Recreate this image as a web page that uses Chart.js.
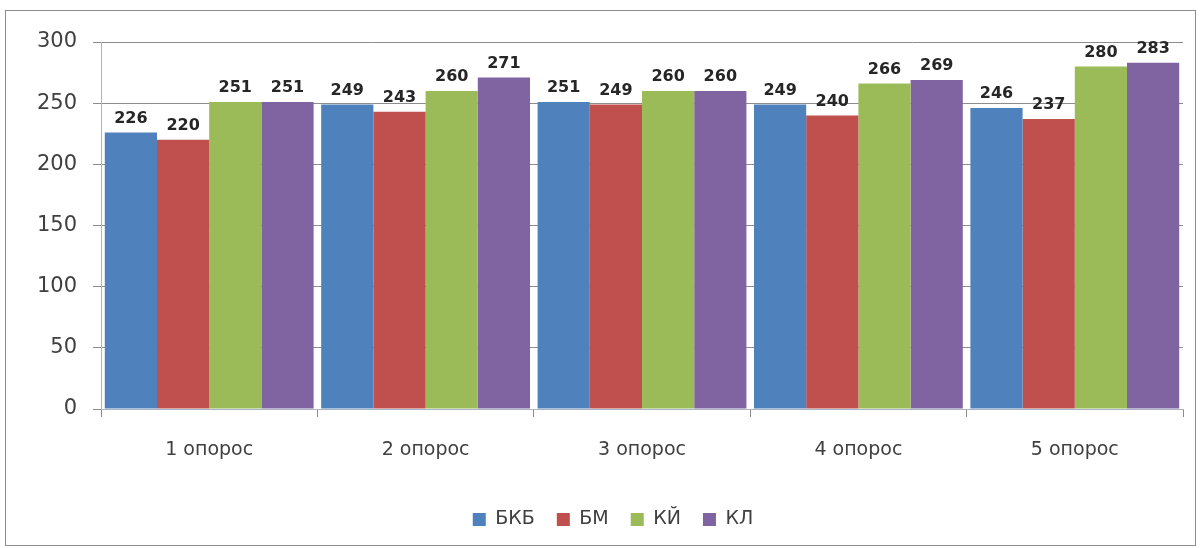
<!DOCTYPE html>
<html>
<head>
<meta charset="utf-8">
<script src="https://cdn.jsdelivr.net/npm/chart.js@4/dist/chart.umd.min.js"></script>
<style>
  body { margin: 0; background: #fff; }
  #frame {
    position: absolute; left: 5px; top: 10px;
    width: 1191px; height: 536px;
    box-sizing: border-box;
    border: 1px solid #8c8c8c;
  }
  #chart { display: block; position: absolute; left: 0; top: 0; }
</style>
</head>
<body>
<div id="frame"><canvas id="chart" width="1189" height="534"></canvas></div>
<script>
// опросы и серии
const categories = ['1 опорос', '2 опорос', '3 опорос', '4 опорос', '5 опорос'];
const seriesNames = ['БКБ', 'БМ', 'КЙ', 'КЛ'];
const bkb = [226, 249, 251, 249, 246];
const bm  = [220, 243, 249, 240, 237];
const ki  = [251, 260, 260, 266, 280];
const kl  = [251, 271, 260, 269, 283];
const yTicks = [0, 50, 100, 150, 200, 250, 300];

const colors = ['#4F81BD', '#C0504D', '#9BBB59', '#8064A2'];
const axisFont = "'DejaVu Sans', sans-serif";

// подписи значений над столбцами
const valueLabels = {
  id: 'valueLabels',
  afterDatasetsDraw(chart) {
    const ctx = chart.ctx;
    ctx.save();
    ctx.font = "bold 16px " + axisFont;
    ctx.fillStyle = '#262626';
    ctx.textAlign = 'center';
    ctx.textBaseline = 'bottom';
    chart.data.datasets.forEach((ds, i) => {
      chart.getDatasetMeta(i).data.forEach((bar, j) => {
        ctx.fillText(String(ds.data[j]), bar.x, bar.y - 6);
      });
    });
    ctx.restore();
  }
};

// легенда центрируется по области построения, а не по всему холсту
const legendShift = {
  id: 'legendShift',
  afterLayout(chart) {
    const dx = chart.chartArea.left / 2 - 29;
    chart.legend.left += dx;
    chart.legend.right += dx;
  }
};

const seriesData = [bkb, bm, ki, kl];

new Chart(document.getElementById('chart'), {
  type: 'bar',
  data: {
    labels: categories,
    datasets: seriesNames.map((name, i) => ({
      label: name,
      data: seriesData[i],
      backgroundColor: colors[i],
      borderWidth: 0,
      categoryPercentage: 0.965,
      barPercentage: 1.0
    }))
  },
  options: {
    responsive: false,
    animation: false,
    layout: { padding: { left: 0, top: 31, right: 12, bottom: 6 } },
    scales: {
      x: {
        grid: { offset: true, drawOnChartArea: false, drawTicks: true, tickLength: 8, color: '#8c8c8c' },
        border: { color: '#a9b4c4', width: 1 },
        ticks: { color: '#404040', font: { family: axisFont, size: 19 }, padding: 22 },
        afterFit(scale) { scale.height = 79; }
      },
      y: {
        min: 0, max: 300,
        afterBuildTicks(scale) { scale.ticks = yTicks.map(v => ({ value: v })); },
        grid: { color: '#8c8c8c', drawTicks: true, tickLength: 8 },
        border: { color: '#a9b4c4', width: 1 },
        ticks: { color: '#404040', font: { family: axisFont, size: 21 }, padding: 16 },
        afterFit(scale) { scale.width = 95; }
      }
    },
    plugins: {
      legend: {
        position: 'bottom',
        labels: {
          color: '#404040',
          font: { family: axisFont, size: 19 },
          usePointStyle: true,
          pointStyle: 'rect',
          boxWidth: 13,
          boxHeight: 13,
          padding: 22
        }
      },
      tooltip: { enabled: false }
    }
  },
  plugins: [valueLabels, legendShift]
});
</script>
</body>
</html>
